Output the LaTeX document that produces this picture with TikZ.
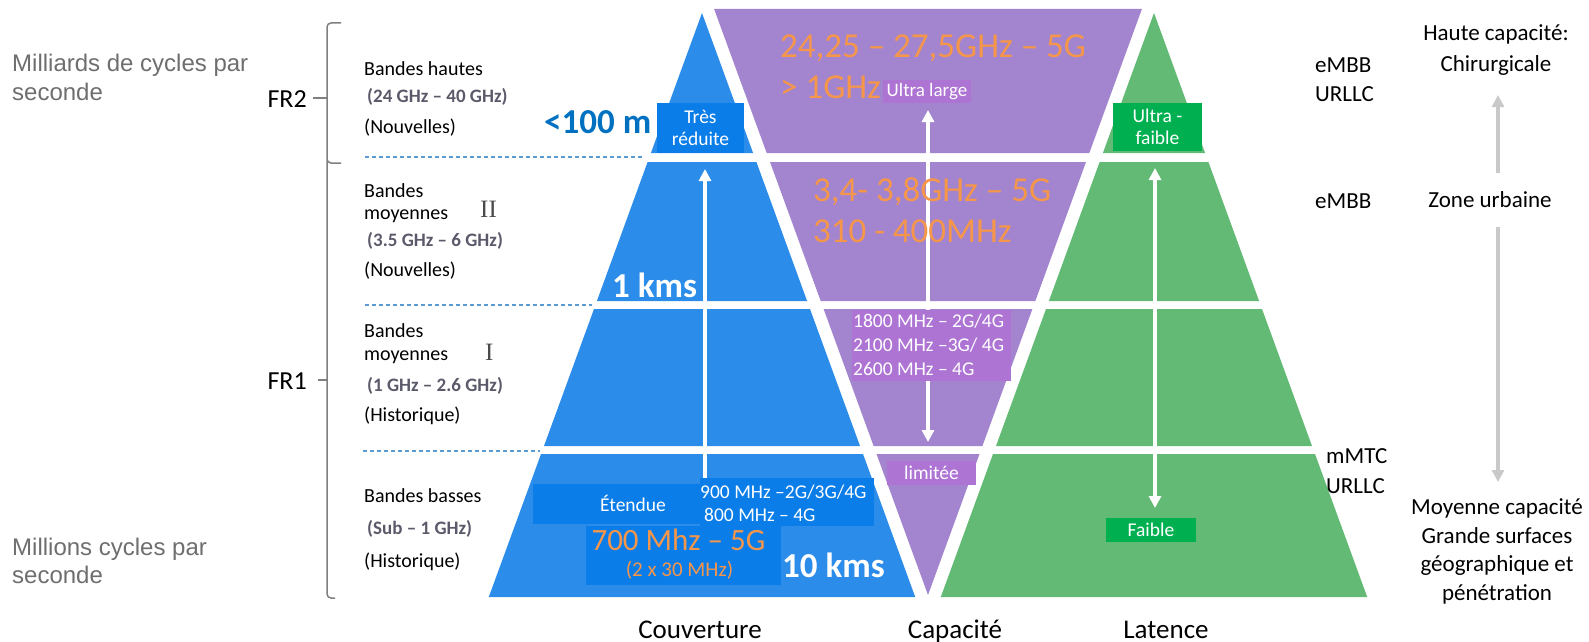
\documentclass[tikz,border=0pt]{standalone}
\usepackage{fontspec}
\setmainfont{Carlito}
\newfontfamily\arialf{Liberation Sans}
\newfontfamily\seriff{Liberation Serif}
\usetikzlibrary{arrows.meta}
\newcommand\myfs[2]{\fontsize{#1}{#2}\selectfont}
\definecolor{bluetri}{HTML}{2B8CE9}
\definecolor{bluebox}{HTML}{0A7DE8}
\definecolor{purpletri}{HTML}{A385CF}
\definecolor{orchidbox}{HTML}{AE74D4}
\definecolor{greentri}{HTML}{62BA74}
\definecolor{greenbox}{HTML}{00B050}
\definecolor{orangetxt}{HTML}{F5964A}
\definecolor{darkblue}{HTML}{0070C0}
\definecolor{dashblue}{HTML}{5B9BD5}
\definecolor{bracegray}{HTML}{7F7F7F}
\definecolor{arrowgray}{HTML}{C9C9C9}
\definecolor{leftgray}{HTML}{6E6E6E}
\definecolor{bandgray}{HTML}{5A5A6A}
\definecolor{romangray}{HTML}{4A4A4A}
\tikzset{
  leftg/.style={font=\arialf\myfs{24}{28}, text=leftgray, anchor=base west, inner sep=0},
  bandtxt/.style={font=\myfs{20}{24}, anchor=base west, inner sep=0},
  freqtxt/.style={font=\bfseries\myfs{19}{22}, text=bandgray, anchor=base west, inner sep=0},
  romantxt/.style={font=\seriff\myfs{25}{28}, text=romangray, anchor=base west, inner sep=0},
  frtxt/.style={font=\myfs{26}{30}, anchor=base east, inner sep=0},
  righttxt/.style={font=\myfs{23}{28}, inner sep=0},
  bottomtxt/.style={font=\myfs{27}{30}, anchor=base, inner sep=0},
  bigorange/.style={font=\myfs{35}{40}, text=orangetxt, anchor=base west, inner sep=0},
  bigwhite/.style={font=\bfseries\myfs{35}{40}, text=white, anchor=base west, inner sep=0},
  boxtxt/.style={font=\myfs{19.5}{22}, text=white, inner sep=0, align=center},
  whitearrow/.style={draw=white, line width=3.5pt, -{Triangle[width=12pt,length=12pt]}},
  whitedarrow/.style={draw=white, line width=3.5pt, {Triangle[width=12pt,length=12pt]}-{Triangle[width=12pt,length=12pt]}},
  grayarrow/.style={draw=arrowgray, line width=4pt, -{Triangle[width=12pt,length=12pt]}},
  dashline/.style={draw=dashblue, line width=1.2pt, dash pattern=on 4pt off 3pt},
  bracestyle/.style={draw=bracegray, line width=1.5pt, rounded corners=4pt},
}
\begin{document}
\begin{tikzpicture}[x=1pt,y=-1pt]
\useasboundingbox (0,0) rectangle (1589,642);
% upright pyramids (blue, green)
\foreach \cx/\col in {702/bluetri,1154/greentri}{
  \fill[\col] (\cx,13) -- (\cx+51.1,153) -- (\cx-51.1,153) -- cycle;
  \fill[\col] (\cx-54.4,162) -- (\cx+54.4,162) -- (\cx+105.1,301) -- (\cx-105.1,301) -- cycle;
  \fill[\col] (\cx-108.0,309) -- (\cx+108.0,309) -- (\cx+158.0,446) -- (\cx-158.0,446) -- cycle;
  \fill[\col] (\cx-161.0,454) -- (\cx+161.0,454) -- (\cx+213.2,597) -- (\cx-213.2,597) -- cycle;
}
% inverted pyramid (purple)
\fill[purpletri] (928-213.9,9) -- (928+213.9,9) -- (928+161.3,153) -- (928-161.3,153) -- cycle;
\fill[purpletri] (928-158.0,162) -- (928+158.0,162) -- (928+107.3,301) -- (928-107.3,301) -- cycle;
\fill[purpletri] (928-104.4,309) -- (928+104.4,309) -- (928+54.4,446) -- (928-54.4,446) -- cycle;
\fill[purpletri] (928-51.5,454) -- (928+51.5,454) -- (928,595) -- cycle;

% white arrows
\coordinate (bA1) at (705,478); \coordinate (bA2) at (705,169);
\draw[whitearrow] (bA1) -- (bA2);
\coordinate (pA1) at (928,110); \coordinate (pA2) at (928,442);
\draw[whitedarrow] (pA1) -- (pA2);
\coordinate (gA1) at (1155,168); \coordinate (gA2) at (1155,508);
\draw[whitedarrow] (gA1) -- (gA2);

% boxes
\node[boxtxt, fill=bluebox, minimum width=87pt, minimum height=50pt] (tres) at (700.5,128) {Très\\réduite};
\node[boxtxt, fill=greenbox, minimum width=89pt, minimum height=48pt] (ultraf) at (1157.5,127) {Ultra -\\faible};
\node[boxtxt, fill=orchidbox, minimum width=88pt, minimum height=23pt, font=\myfs{19}{22}] (ultral) at (927,91.5) {Ultra large};
\node[fill=orchidbox, minimum width=159pt, minimum height=71pt, inner sep=0] (mhzbox) at (931.5,345.5) {};
\node[boxtxt, anchor=base west, font=\myfs{19.5}{24}] (m1800) at (853,327) {1800 MHz – 2G/4G};
\node[boxtxt, anchor=base west, font=\myfs{19.5}{24}] (m2100) at (853,351) {2100 MHz –3G/ 4G};
\node[boxtxt, anchor=base west, font=\myfs{19.5}{24}] (m2600) at (853,375) {2600 MHz – 4G};
\node[boxtxt, fill=orchidbox, minimum width=89pt, minimum height=24pt] (limitee) at (931.5,473) {limitée};
\node[boxtxt, fill=greenbox, minimum width=90pt, minimum height=24pt] (faible) at (1151,530) {Faible};
\node[fill=bluebox, minimum width=169pt, minimum height=40pt, inner sep=0] (etbox) at (617.5,504) {};
\node[fill=bluebox, minimum width=174pt, minimum height=48pt, inner sep=0] (lowbox) at (787,502) {};
\node[fill=bluebox, minimum width=195pt, minimum height=59pt, inner sep=0] (sevenbox) at (683.5,555.5) {};
\node[boxtxt, anchor=base] (etendue) at (633,511) {Étendue};
\node[boxtxt, anchor=base west] (f900) at (700,498) {900 MHz –2G/3G/4G};
\node[boxtxt, anchor=base west] (f800) at (704,521) {800 MHz – 4G};
\node[font=\myfs{31}{34}, text=orangetxt, anchor=base, inner sep=0] (f700) at (678.5,550) {700 Mhz – 5G};
\node[font=\myfs{21}{24}, text=orangetxt, anchor=base, inner sep=0] (f2x30) at (679.5,576) {(2 x 30 MHz)};

% big texts
\node[bigorange] (p1a) at (780,57) {24,25 – 27,5GHz – 5G};
\node[bigorange] (p1b) at (780,98) {> 1GHz};
\node[bigorange] (p2a) at (813,201) {3,4- 3,8GHz – 5G};
\node[bigorange] (p2b) at (813,242) {310 - 400MHz};
\node[bigwhite, text=darkblue] (lt100) at (544,133) {<100 m};
\node[bigwhite] (onekm) at (612,297) {1 kms};
\node[bigwhite] (tenkm) at (782,577) {10 kms};

% left column
\node[leftg] (mil1) at (12,71) {Milliards de cycles par};
\node[leftg] (mil2) at (12,100) {seconde};
\node[leftg] (mio1) at (12,555) {Millions cycles par};
\node[leftg] (mio2) at (12,583) {seconde};
\node[frtxt] (fr2) at (307,107) {FR2};
\node[frtxt] (fr1) at (307,389) {FR1};
\draw[bracestyle] (341,23) -- (327,23) -- (327,163) -- (341,163);
\draw[bracestyle] (327,160) -- (327,598) -- (335,598);
\draw[draw=bracegray, line width=1.5pt] (327,98) -- (313,98);
\draw[draw=bracegray, line width=1.5pt] (327,380) -- (318,380);

\node[bandtxt] (bh) at (364,75) {Bandes hautes};
\node[freqtxt] (bhf) at (367,102) {(24 GHz – 40 GHz)};
\node[bandtxt] (bhn) at (364,133) {(Nouvelles)};
\node[bandtxt] (bm2a) at (364,197) {Bandes};
\node[bandtxt] (bm2b) at (364,219) {moyennes};
\node[romantxt] (rII) at (480,217) {II};
\node[freqtxt] (bm2f) at (367,246) {(3.5 GHz – 6 GHz)};
\node[bandtxt] (bm2n) at (364,276) {(Nouvelles)};
\node[bandtxt] (bm1a) at (364,337) {Bandes};
\node[bandtxt] (bm1b) at (364,360) {moyennes};
\node[romantxt] (rI) at (485,360) {I};
\node[freqtxt] (bm1f) at (367,391) {(1 GHz – 2.6 GHz)};
\node[bandtxt] (bm1n) at (364,421) {(Historique)};
\node[bandtxt] (bb) at (364,502) {Bandes basses};
\node[freqtxt] (bbf) at (367,534) {(Sub – 1 GHz)};
\node[bandtxt] (bbn) at (364,567) {(Historique)};

\coordinate (d1a) at (365,157); \coordinate (d1b) at (642,157);
\coordinate (d2a) at (365,305); \coordinate (d2b) at (592,305);
\coordinate (d3a) at (363,451); \coordinate (d3b) at (540,451);
\draw[dashline] (d1a) -- (d1b);
\draw[dashline] (d2a) -- (d2b);
\draw[dashline] (d3a) -- (d3b);

% right column
\node[righttxt, anchor=base west] (embb1) at (1315,72) {eMBB};
\node[righttxt, anchor=base west] (urllc1) at (1315,101) {URLLC};
\node[righttxt, anchor=base west] (embb2) at (1315,208) {eMBB};
\node[righttxt, anchor=base west] (mmtc) at (1326,463) {mMTC};
\node[righttxt, anchor=base west] (urllc2) at (1326,493) {URLLC};
\node[righttxt, anchor=base] (haute1) at (1496,41) {Haute capacité:};
\node[righttxt, anchor=base] (haute2) at (1496,71) {Chirurgicale};
\node[righttxt, anchor=base] (zone) at (1490,207) {Zone urbaine};
\node[righttxt, anchor=base] (moy1) at (1497,514) {Moyenne capacité};
\node[righttxt, anchor=base] (moy2) at (1497,543) {Grande surfaces};
\node[righttxt, anchor=base] (moy3) at (1497,571) {géographique et};
\node[righttxt, anchor=base] (moy4) at (1497,600) {pénétration};
\coordinate (gU1) at (1498,173); \coordinate (gU2) at (1498,95);
\coordinate (gD1) at (1498,227); \coordinate (gD2) at (1498,482);
\draw[grayarrow] (gU1) -- (gU2);
\draw[grayarrow] (gD1) -- (gD2);

% bottom labels
\node[bottomtxt] (couv) at (700,638) {Couverture};
\node[bottomtxt] (capa) at (955,638) {Capacité};
\node[bottomtxt] (lat) at (1166,638) {Latence};
\end{tikzpicture}
\end{document}
